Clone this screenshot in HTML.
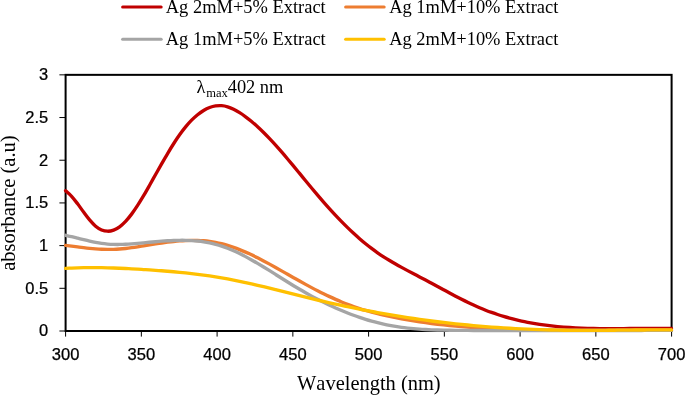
<!DOCTYPE html>
<html><head><meta charset="utf-8"><title>UV-Vis absorbance</title>
<style>html,body{margin:0;padding:0;background:#fff;}body{width:685px;height:395px;overflow:hidden;font-family:"Liberation Serif",serif;}svg{display:block;will-change:transform;}text{fill:#000;font-kerning:none;}</style></head><body>
<svg width="685" height="395" viewBox="0 0 685 395">
<rect x="0" y="0" width="685" height="395" fill="#fff"/>
<rect x="65.60" y="74.85" width="606.00" height="256.15" fill="none" stroke="#000" stroke-width="2"/>
<line x1="65.60" y1="331.00" x2="65.60" y2="336.60" stroke="#000" stroke-width="1"/>
<line x1="141.35" y1="331.00" x2="141.35" y2="336.60" stroke="#000" stroke-width="1"/>
<line x1="217.10" y1="331.00" x2="217.10" y2="336.60" stroke="#000" stroke-width="1"/>
<line x1="292.85" y1="331.00" x2="292.85" y2="336.60" stroke="#000" stroke-width="1"/>
<line x1="368.60" y1="331.00" x2="368.60" y2="336.60" stroke="#000" stroke-width="1"/>
<line x1="444.35" y1="331.00" x2="444.35" y2="336.60" stroke="#000" stroke-width="1"/>
<line x1="520.10" y1="331.00" x2="520.10" y2="336.60" stroke="#000" stroke-width="1"/>
<line x1="595.85" y1="331.00" x2="595.85" y2="336.60" stroke="#000" stroke-width="1"/>
<line x1="671.60" y1="331.00" x2="671.60" y2="336.60" stroke="#000" stroke-width="1"/>
<line x1="59.40" y1="331.00" x2="65.60" y2="331.00" stroke="#000" stroke-width="1"/>
<line x1="59.40" y1="288.31" x2="65.60" y2="288.31" stroke="#000" stroke-width="1"/>
<line x1="59.40" y1="245.62" x2="65.60" y2="245.62" stroke="#000" stroke-width="1"/>
<line x1="59.40" y1="202.93" x2="65.60" y2="202.93" stroke="#000" stroke-width="1"/>
<line x1="59.40" y1="160.23" x2="65.60" y2="160.23" stroke="#000" stroke-width="1"/>
<line x1="59.40" y1="117.54" x2="65.60" y2="117.54" stroke="#000" stroke-width="1"/>
<line x1="59.40" y1="74.85" x2="65.60" y2="74.85" stroke="#000" stroke-width="1"/>
<path d="M65.60 190.75 C66.60 191.68 69.60 194.13 71.60 196.31 C73.60 198.49 75.60 201.19 77.60 203.82 C79.60 206.45 81.60 209.40 83.60 212.09 C85.60 214.78 87.60 217.59 89.60 219.94 C91.60 222.28 93.60 224.51 95.60 226.17 C97.60 227.84 99.60 229.09 101.60 229.93 C103.60 230.77 105.60 231.17 107.60 231.20 C109.60 231.23 111.60 230.85 113.60 230.11 C115.60 229.38 117.60 228.25 119.60 226.79 C121.60 225.33 123.60 223.48 125.60 221.37 C127.60 219.26 129.60 216.78 131.60 214.12 C133.60 211.46 135.60 208.50 137.60 205.42 C139.60 202.34 141.60 199.02 143.60 195.66 C145.60 192.29 147.60 188.75 149.60 185.22 C151.60 181.70 153.60 178.07 155.60 174.51 C157.60 170.95 159.60 167.35 161.60 163.85 C163.60 160.36 165.60 156.87 167.60 153.52 C169.60 150.16 171.60 146.87 173.60 143.74 C175.60 140.62 177.60 137.60 179.60 134.79 C181.60 131.98 183.60 129.32 185.60 126.89 C187.60 124.46 189.60 122.21 191.60 120.18 C193.60 118.15 195.60 116.32 197.60 114.70 C199.60 113.08 201.60 111.67 203.60 110.47 C205.60 109.28 207.60 108.30 209.60 107.54 C211.60 106.78 213.60 106.23 215.60 105.92 C217.60 105.61 219.60 105.51 221.60 105.65 C223.60 105.80 225.60 106.18 227.60 106.77 C229.60 107.37 231.60 108.25 233.60 109.23 C235.60 110.21 237.60 111.40 239.60 112.66 C241.60 113.91 243.60 115.30 245.60 116.78 C247.60 118.25 249.60 119.84 251.60 121.51 C253.60 123.18 255.60 124.94 257.60 126.78 C259.60 128.61 261.60 130.54 263.60 132.52 C265.60 134.50 267.60 136.56 269.60 138.67 C271.60 140.78 273.60 142.96 275.60 145.17 C277.60 147.39 279.60 149.66 281.60 151.96 C283.60 154.26 285.60 156.61 287.60 158.98 C289.60 161.35 291.60 163.75 293.60 166.16 C295.60 168.56 297.60 171.00 299.60 173.43 C301.60 175.85 303.60 178.30 305.60 180.72 C307.60 183.15 309.60 185.58 311.60 187.98 C313.60 190.38 315.60 192.77 317.60 195.13 C319.60 197.48 321.60 199.82 323.60 202.11 C325.60 204.40 327.60 206.65 329.60 208.87 C331.60 211.08 333.60 213.25 335.60 215.38 C337.60 217.51 339.60 219.60 341.60 221.64 C343.60 223.68 345.60 225.68 347.60 227.62 C349.60 229.57 351.60 231.47 353.60 233.31 C355.60 235.15 357.60 236.95 359.60 238.68 C361.60 240.42 363.60 242.11 365.60 243.73 C367.60 245.35 369.60 246.92 371.60 248.42 C373.60 249.93 375.60 251.37 377.60 252.76 C379.60 254.15 381.60 255.48 383.60 256.78 C385.60 258.07 387.60 259.31 389.60 260.52 C391.60 261.73 393.60 262.90 395.60 264.04 C397.60 265.19 399.60 266.29 401.60 267.39 C403.60 268.48 405.60 269.55 407.60 270.61 C409.60 271.67 411.60 272.72 413.60 273.76 C415.60 274.81 417.60 275.84 419.60 276.89 C421.60 277.93 423.60 278.97 425.60 280.03 C427.60 281.09 429.60 282.17 431.60 283.24 C433.60 284.32 435.60 285.41 437.60 286.50 C439.60 287.58 441.60 288.67 443.60 289.76 C445.60 290.84 447.60 291.93 449.60 293.00 C451.60 294.07 453.60 295.14 455.60 296.19 C457.60 297.23 459.60 298.27 461.60 299.29 C463.60 300.30 465.60 301.30 467.60 302.27 C469.60 303.24 471.60 304.19 473.60 305.10 C475.60 306.01 477.60 306.90 479.60 307.75 C481.60 308.59 483.60 309.41 485.60 310.19 C487.60 310.97 489.60 311.72 491.60 312.44 C493.60 313.16 495.60 313.85 497.60 314.50 C499.60 315.16 501.60 315.79 503.60 316.39 C505.60 316.99 507.60 317.56 509.60 318.10 C511.60 318.64 513.60 319.16 515.60 319.65 C517.60 320.14 519.60 320.60 521.60 321.04 C523.60 321.48 525.60 321.89 527.60 322.28 C529.60 322.67 531.60 323.04 533.60 323.39 C535.60 323.73 537.60 324.05 539.60 324.36 C541.60 324.66 543.60 324.94 545.60 325.21 C547.60 325.47 549.60 325.71 551.60 325.94 C553.60 326.16 555.60 326.37 557.60 326.56 C559.60 326.75 561.60 326.93 563.60 327.09 C565.60 327.24 567.60 327.39 569.60 327.52 C571.60 327.65 573.60 327.76 575.60 327.86 C577.60 327.97 579.60 328.06 581.60 328.14 C583.60 328.21 585.60 328.28 587.60 328.34 C589.60 328.40 591.60 328.44 593.60 328.48 C595.60 328.52 597.60 328.55 599.60 328.57 C601.60 328.59 603.60 328.61 605.60 328.62 C607.60 328.63 609.60 328.63 611.60 328.63 C613.60 328.62 615.60 328.62 617.60 328.61 C619.60 328.60 621.60 328.58 623.60 328.57 C625.60 328.55 627.60 328.53 629.60 328.52 C631.60 328.50 633.60 328.48 635.60 328.46 C637.60 328.44 639.60 328.42 641.60 328.41 C643.60 328.39 645.60 328.37 647.60 328.36 C649.60 328.35 651.60 328.34 653.60 328.34 C655.60 328.34 657.60 328.34 659.60 328.34 C661.60 328.35 663.62 328.36 665.60 328.38 C667.58 328.40 670.52 328.45 671.50 328.47" fill="none" stroke="#C00000" stroke-width="3.35" stroke-linecap="round" stroke-linejoin="round"/>
<path d="M65.60 245.44 C66.60 245.56 69.60 245.92 71.60 246.17 C73.60 246.41 75.60 246.67 77.60 246.92 C79.60 247.17 81.60 247.43 83.60 247.66 C85.60 247.90 87.60 248.13 89.60 248.33 C91.60 248.54 93.60 248.73 95.60 248.89 C97.60 249.04 99.60 249.18 101.60 249.27 C103.60 249.36 105.60 249.42 107.60 249.44 C109.60 249.45 111.60 249.43 113.60 249.36 C115.60 249.30 117.60 249.19 119.60 249.04 C121.60 248.90 123.60 248.70 125.60 248.48 C127.60 248.26 129.60 247.99 131.60 247.71 C133.60 247.43 135.60 247.12 137.60 246.80 C139.60 246.49 141.60 246.16 143.60 245.84 C145.60 245.51 147.60 245.18 149.60 244.86 C151.60 244.54 153.60 244.22 155.60 243.91 C157.60 243.60 159.60 243.29 161.60 243.01 C163.60 242.72 165.60 242.45 167.60 242.20 C169.60 241.95 171.60 241.71 173.60 241.50 C175.60 241.29 177.60 241.10 179.60 240.95 C181.60 240.79 183.60 240.66 185.60 240.57 C187.60 240.48 189.60 240.42 191.60 240.40 C193.60 240.38 195.60 240.40 197.60 240.46 C199.60 240.53 201.60 240.63 203.60 240.79 C205.60 240.95 207.60 241.15 209.60 241.41 C211.60 241.67 213.60 241.99 215.60 242.36 C217.60 242.74 219.60 243.17 221.60 243.66 C223.60 244.16 225.60 244.72 227.60 245.32 C229.60 245.93 231.60 246.59 233.60 247.30 C235.60 248.01 237.60 248.77 239.60 249.57 C241.60 250.37 243.60 251.22 245.60 252.10 C247.60 252.98 249.60 253.91 251.60 254.86 C253.60 255.81 255.60 256.80 257.60 257.81 C259.60 258.82 261.60 259.86 263.60 260.91 C265.60 261.97 267.60 263.05 269.60 264.15 C271.60 265.24 273.60 266.36 275.60 267.48 C277.60 268.60 279.60 269.73 281.60 270.87 C283.60 272.00 285.60 273.15 287.60 274.29 C289.60 275.43 291.60 276.57 293.60 277.70 C295.60 278.83 297.60 279.97 299.60 281.08 C301.60 282.20 303.60 283.30 305.60 284.39 C307.60 285.48 309.60 286.56 311.60 287.62 C313.60 288.68 315.60 289.73 317.60 290.75 C319.60 291.77 321.60 292.78 323.60 293.76 C325.60 294.75 327.60 295.71 329.60 296.64 C331.60 297.58 333.60 298.49 335.60 299.38 C337.60 300.26 339.60 301.12 341.60 301.95 C343.60 302.78 345.60 303.58 347.60 304.34 C349.60 305.11 351.60 305.84 353.60 306.55 C355.60 307.25 357.60 307.92 359.60 308.56 C361.60 309.21 363.60 309.82 365.60 310.41 C367.60 311.00 369.60 311.56 371.60 312.10 C373.60 312.64 375.60 313.16 377.60 313.65 C379.60 314.15 381.60 314.62 383.60 315.08 C385.60 315.54 387.60 315.98 389.60 316.41 C391.60 316.83 393.60 317.24 395.60 317.64 C397.60 318.03 399.60 318.42 401.60 318.79 C403.60 319.16 405.60 319.52 407.60 319.87 C409.60 320.22 411.60 320.55 413.60 320.88 C415.60 321.20 417.60 321.51 419.60 321.81 C421.60 322.11 423.60 322.40 425.60 322.68 C427.60 322.96 429.60 323.23 431.60 323.49 C433.60 323.75 435.60 324.00 437.60 324.24 C439.60 324.47 441.60 324.70 443.60 324.92 C445.60 325.14 447.60 325.35 449.60 325.55 C451.60 325.75 453.60 325.94 455.60 326.13 C457.60 326.31 459.60 326.49 461.60 326.65 C463.60 326.82 465.60 326.98 467.60 327.13 C469.60 327.28 471.60 327.42 473.60 327.56 C475.60 327.70 477.60 327.82 479.60 327.95 C481.60 328.07 483.60 328.18 485.60 328.29 C487.60 328.40 489.60 328.50 491.60 328.60 C493.60 328.70 495.60 328.79 497.60 328.87 C499.60 328.96 501.60 329.03 503.60 329.11 C505.60 329.18 507.60 329.25 509.60 329.32 C511.60 329.38 513.60 329.44 515.60 329.50 C517.60 329.55 519.60 329.60 521.60 329.65 C523.60 329.70 525.60 329.74 527.60 329.78 C529.60 329.82 531.60 329.86 533.60 329.89 C535.60 329.92 537.60 329.95 539.60 329.98 C541.60 330.01 543.60 330.04 545.60 330.06 C547.60 330.08 549.60 330.10 551.60 330.12 C553.60 330.14 555.60 330.16 557.60 330.18 C559.60 330.19 561.60 330.21 563.60 330.22 C565.60 330.23 567.60 330.25 569.60 330.26 C571.60 330.27 573.60 330.27 575.60 330.28 C577.60 330.29 579.60 330.30 581.60 330.30 C583.60 330.31 585.60 330.31 587.60 330.31 C589.60 330.32 591.60 330.32 593.60 330.32 C595.60 330.32 597.60 330.32 599.60 330.32 C601.60 330.32 603.60 330.32 605.60 330.32 C607.60 330.31 609.60 330.31 611.60 330.31 C613.60 330.30 615.60 330.30 617.60 330.29 C619.60 330.29 621.60 330.28 623.60 330.27 C625.60 330.27 627.60 330.26 629.60 330.25 C631.60 330.25 633.60 330.24 635.60 330.23 C637.60 330.22 639.60 330.22 641.60 330.21 C643.60 330.20 645.60 330.19 647.60 330.18 C649.60 330.18 651.60 330.17 653.60 330.16 C655.60 330.15 657.60 330.14 659.60 330.13 C661.60 330.13 663.62 330.12 665.60 330.11 C667.58 330.10 670.52 330.09 671.50 330.09" fill="none" stroke="#ED7D31" stroke-width="3.35" stroke-linecap="round" stroke-linejoin="round"/>
<path d="M65.60 235.32 C66.60 235.54 69.60 236.18 71.60 236.65 C73.60 237.11 75.60 237.62 77.60 238.12 C79.60 238.62 81.60 239.15 83.60 239.64 C85.60 240.14 87.60 240.64 89.60 241.10 C91.60 241.56 93.60 242.01 95.60 242.40 C97.60 242.78 99.60 243.13 101.60 243.42 C103.60 243.70 105.60 243.91 107.60 244.08 C109.60 244.24 111.60 244.34 113.60 244.40 C115.60 244.46 117.60 244.46 119.60 244.44 C121.60 244.41 123.60 244.34 125.60 244.24 C127.60 244.15 129.60 244.02 131.60 243.88 C133.60 243.73 135.60 243.56 137.60 243.39 C139.60 243.21 141.60 243.02 143.60 242.83 C145.60 242.65 147.60 242.45 149.60 242.26 C151.60 242.07 153.60 241.88 155.60 241.71 C157.60 241.53 159.60 241.35 161.60 241.20 C163.60 241.04 165.60 240.90 167.60 240.77 C169.60 240.65 171.60 240.54 173.60 240.46 C175.60 240.38 177.60 240.32 179.60 240.30 C181.60 240.28 183.60 240.28 185.60 240.32 C187.60 240.36 189.60 240.43 191.60 240.55 C193.60 240.67 195.60 240.82 197.60 241.03 C199.60 241.24 201.60 241.48 203.60 241.79 C205.60 242.09 207.60 242.45 209.60 242.86 C211.60 243.28 213.60 243.74 215.60 244.28 C217.60 244.82 219.60 245.41 221.60 246.08 C223.60 246.74 225.60 247.47 227.60 248.25 C229.60 249.03 231.60 249.87 233.60 250.76 C235.60 251.65 237.60 252.59 239.60 253.57 C241.60 254.55 243.60 255.58 245.60 256.64 C247.60 257.69 249.60 258.80 251.60 259.92 C253.60 261.05 255.60 262.21 257.60 263.39 C259.60 264.57 261.60 265.77 263.60 266.99 C265.60 268.21 267.60 269.45 269.60 270.70 C271.60 271.94 273.60 273.20 275.60 274.46 C277.60 275.72 279.60 276.98 281.60 278.24 C283.60 279.50 285.60 280.76 287.60 282.00 C289.60 283.25 291.60 284.49 293.60 285.71 C295.60 286.92 297.60 288.13 299.60 289.31 C301.60 290.49 303.60 291.64 305.60 292.78 C307.60 293.91 309.60 295.02 311.60 296.11 C313.60 297.19 315.60 298.25 317.60 299.29 C319.60 300.33 321.60 301.34 323.60 302.33 C325.60 303.32 327.60 304.28 329.60 305.22 C331.60 306.16 333.60 307.07 335.60 307.96 C337.60 308.85 339.60 309.71 341.60 310.54 C343.60 311.38 345.60 312.19 347.60 312.97 C349.60 313.75 351.60 314.51 353.60 315.24 C355.60 315.97 357.60 316.67 359.60 317.35 C361.60 318.02 363.60 318.67 365.60 319.29 C367.60 319.91 369.60 320.50 371.60 321.07 C373.60 321.63 375.60 322.17 377.60 322.67 C379.60 323.18 381.60 323.66 383.60 324.11 C385.60 324.55 387.60 324.97 389.60 325.36 C391.60 325.76 393.60 326.12 395.60 326.45 C397.60 326.78 399.60 327.08 401.60 327.35 C403.60 327.63 405.60 327.87 407.60 328.10 C409.60 328.32 411.60 328.52 413.60 328.70 C415.60 328.88 417.60 329.03 419.60 329.17 C421.60 329.32 423.60 329.43 425.60 329.54 C427.60 329.65 429.60 329.74 431.60 329.82 C433.60 329.89 435.60 329.96 437.60 330.01 C439.60 330.07 441.60 330.12 443.60 330.16 C445.60 330.20 447.60 330.23 449.60 330.26 C451.60 330.29 453.60 330.31 455.60 330.33 C457.60 330.36 459.60 330.38 461.60 330.40 C463.60 330.41 465.60 330.43 467.60 330.44 C469.60 330.46 471.60 330.47 473.60 330.48 C475.60 330.49 477.60 330.50 479.60 330.50 C481.60 330.51 483.60 330.51 485.60 330.52 C487.60 330.52 489.60 330.53 491.60 330.53 C493.60 330.53 495.60 330.53 497.60 330.53 C499.60 330.53 501.60 330.53 503.60 330.53 C505.60 330.52 507.60 330.52 509.60 330.52 C511.60 330.52 513.60 330.52 515.60 330.51 C517.60 330.51 519.60 330.51 521.60 330.51 C523.60 330.50 525.60 330.50 527.60 330.50 C529.60 330.50 531.60 330.50 533.60 330.50 C535.60 330.49 537.60 330.49 539.60 330.49 C541.60 330.49 543.60 330.49 545.60 330.49 C547.60 330.49 549.60 330.49 551.60 330.49 C553.60 330.49 555.60 330.49 557.60 330.49 C559.60 330.48 561.60 330.48 563.60 330.48 C565.60 330.48 567.60 330.48 569.60 330.48 C571.60 330.48 573.60 330.48 575.60 330.48 C577.60 330.48 579.60 330.48 581.60 330.48 C583.60 330.48 585.60 330.48 587.60 330.48 C589.60 330.48 591.60 330.48 593.60 330.48 C595.60 330.48 597.60 330.48 599.60 330.48 C601.60 330.48 603.60 330.48 605.60 330.48 C607.60 330.48 609.60 330.48 611.60 330.48 C613.60 330.48 615.60 330.47 617.60 330.47 C619.60 330.47 621.60 330.47 623.60 330.47 C625.60 330.47 627.60 330.47 629.60 330.46 C631.60 330.46 633.60 330.46 635.60 330.46 C637.60 330.46 639.60 330.45 641.60 330.45 C643.60 330.45 645.60 330.44 647.60 330.44 C649.60 330.44 651.60 330.43 653.60 330.43 C655.60 330.43 657.60 330.42 659.60 330.42 C661.60 330.41 663.62 330.41 665.60 330.40 C667.58 330.40 670.52 330.39 671.50 330.39" fill="none" stroke="#A5A5A5" stroke-width="3.35" stroke-linecap="round" stroke-linejoin="round"/>
<path d="M65.60 268.38 C66.60 268.32 69.60 268.15 71.60 268.06 C73.60 267.96 75.60 267.89 77.60 267.83 C79.60 267.76 81.60 267.72 83.60 267.68 C85.60 267.65 87.60 267.63 89.60 267.62 C91.60 267.61 93.60 267.61 95.60 267.63 C97.60 267.64 99.60 267.67 101.60 267.70 C103.60 267.74 105.60 267.78 107.60 267.84 C109.60 267.89 111.60 267.95 113.60 268.03 C115.60 268.10 117.60 268.18 119.60 268.26 C121.60 268.35 123.60 268.44 125.60 268.54 C127.60 268.64 129.60 268.75 131.60 268.85 C133.60 268.96 135.60 269.08 137.60 269.20 C139.60 269.31 141.60 269.44 143.60 269.56 C145.60 269.69 147.60 269.81 149.60 269.95 C151.60 270.08 153.60 270.21 155.60 270.35 C157.60 270.50 159.60 270.64 161.60 270.79 C163.60 270.94 165.60 271.10 167.60 271.26 C169.60 271.43 171.60 271.60 173.60 271.77 C175.60 271.95 177.60 272.13 179.60 272.33 C181.60 272.52 183.60 272.72 185.60 272.93 C187.60 273.14 189.60 273.36 191.60 273.59 C193.60 273.81 195.60 274.05 197.60 274.30 C199.60 274.55 201.60 274.81 203.60 275.08 C205.60 275.35 207.60 275.63 209.60 275.92 C211.60 276.22 213.60 276.52 215.60 276.84 C217.60 277.16 219.60 277.49 221.60 277.83 C223.60 278.18 225.60 278.54 227.60 278.91 C229.60 279.28 231.60 279.66 233.60 280.06 C235.60 280.45 237.60 280.86 239.60 281.27 C241.60 281.69 243.60 282.12 245.60 282.55 C247.60 282.99 249.60 283.44 251.60 283.89 C253.60 284.35 255.60 284.81 257.60 285.29 C259.60 285.76 261.60 286.24 263.60 286.72 C265.60 287.21 267.60 287.70 269.60 288.20 C271.60 288.69 273.60 289.19 275.60 289.69 C277.60 290.19 279.60 290.70 281.60 291.20 C283.60 291.70 285.60 292.21 287.60 292.71 C289.60 293.22 291.60 293.72 293.60 294.22 C295.60 294.72 297.60 295.22 299.60 295.71 C301.60 296.20 303.60 296.69 305.60 297.18 C307.60 297.66 309.60 298.15 311.60 298.62 C313.60 299.10 315.60 299.57 317.60 300.04 C319.60 300.50 321.60 300.97 323.60 301.42 C325.60 301.88 327.60 302.34 329.60 302.78 C331.60 303.23 333.60 303.68 335.60 304.11 C337.60 304.55 339.60 304.99 341.60 305.42 C343.60 305.84 345.60 306.27 347.60 306.69 C349.60 307.11 351.60 307.52 353.60 307.93 C355.60 308.34 357.60 308.74 359.60 309.14 C361.60 309.53 363.60 309.93 365.60 310.31 C367.60 310.70 369.60 311.08 371.60 311.46 C373.60 311.83 375.60 312.20 377.60 312.57 C379.60 312.93 381.60 313.29 383.60 313.64 C385.60 314.00 387.60 314.35 389.60 314.69 C391.60 315.03 393.60 315.36 395.60 315.69 C397.60 316.02 399.60 316.34 401.60 316.66 C403.60 316.98 405.60 317.29 407.60 317.60 C409.60 317.90 411.60 318.20 413.60 318.49 C415.60 318.79 417.60 319.08 419.60 319.36 C421.60 319.64 423.60 319.92 425.60 320.19 C427.60 320.46 429.60 320.72 431.60 320.98 C433.60 321.24 435.60 321.49 437.60 321.74 C439.60 321.98 441.60 322.23 443.60 322.46 C445.60 322.70 447.60 322.93 449.60 323.15 C451.60 323.38 453.60 323.60 455.60 323.81 C457.60 324.02 459.60 324.23 461.60 324.43 C463.60 324.64 465.60 324.83 467.60 325.02 C469.60 325.22 471.60 325.40 473.60 325.58 C475.60 325.76 477.60 325.94 479.60 326.11 C481.60 326.28 483.60 326.44 485.60 326.60 C487.60 326.76 489.60 326.92 491.60 327.06 C493.60 327.21 495.60 327.36 497.60 327.49 C499.60 327.63 501.60 327.77 503.60 327.89 C505.60 328.02 507.60 328.14 509.60 328.26 C511.60 328.38 513.60 328.49 515.60 328.60 C517.60 328.71 519.60 328.81 521.60 328.90 C523.60 329.00 525.60 329.09 527.60 329.18 C529.60 329.27 531.60 329.35 533.60 329.43 C535.60 329.51 537.60 329.58 539.60 329.64 C541.60 329.71 543.60 329.77 545.60 329.83 C547.60 329.89 549.60 329.94 551.60 329.99 C553.60 330.04 555.60 330.08 557.60 330.12 C559.60 330.16 561.60 330.19 563.60 330.22 C565.60 330.25 567.60 330.28 569.60 330.30 C571.60 330.32 573.60 330.33 575.60 330.35 C577.60 330.36 579.60 330.37 581.60 330.37 C583.60 330.38 585.60 330.38 587.60 330.38 C589.60 330.37 591.60 330.37 593.60 330.36 C595.60 330.36 597.60 330.35 599.60 330.34 C601.60 330.33 603.60 330.31 605.60 330.30 C607.60 330.28 609.60 330.27 611.60 330.25 C613.60 330.23 615.60 330.22 617.60 330.20 C619.60 330.18 621.60 330.16 623.60 330.14 C625.60 330.12 627.60 330.10 629.60 330.08 C631.60 330.06 633.60 330.04 635.60 330.03 C637.60 330.01 639.60 329.99 641.60 329.98 C643.60 329.96 645.60 329.95 647.60 329.93 C649.60 329.92 651.60 329.91 653.60 329.90 C655.60 329.90 657.60 329.89 659.60 329.89 C661.60 329.88 663.62 329.88 665.60 329.88 C667.58 329.89 670.52 329.90 671.50 329.90" fill="none" stroke="#FFC000" stroke-width="3.35" stroke-linecap="round" stroke-linejoin="round"/>
<text x="65.60" y="360.3" text-anchor="middle" font-family="Liberation Sans, sans-serif" font-size="15.9" stroke="#000" stroke-width="0.25" textLength="27.6" lengthAdjust="spacingAndGlyphs">300</text>
<text x="141.35" y="360.3" text-anchor="middle" font-family="Liberation Sans, sans-serif" font-size="15.9" stroke="#000" stroke-width="0.25" textLength="27.6" lengthAdjust="spacingAndGlyphs">350</text>
<text x="217.10" y="360.3" text-anchor="middle" font-family="Liberation Sans, sans-serif" font-size="15.9" stroke="#000" stroke-width="0.25" textLength="27.6" lengthAdjust="spacingAndGlyphs">400</text>
<text x="292.85" y="360.3" text-anchor="middle" font-family="Liberation Sans, sans-serif" font-size="15.9" stroke="#000" stroke-width="0.25" textLength="27.6" lengthAdjust="spacingAndGlyphs">450</text>
<text x="368.60" y="360.3" text-anchor="middle" font-family="Liberation Sans, sans-serif" font-size="15.9" stroke="#000" stroke-width="0.25" textLength="27.6" lengthAdjust="spacingAndGlyphs">500</text>
<text x="444.35" y="360.3" text-anchor="middle" font-family="Liberation Sans, sans-serif" font-size="15.9" stroke="#000" stroke-width="0.25" textLength="27.6" lengthAdjust="spacingAndGlyphs">550</text>
<text x="520.10" y="360.3" text-anchor="middle" font-family="Liberation Sans, sans-serif" font-size="15.9" stroke="#000" stroke-width="0.25" textLength="27.6" lengthAdjust="spacingAndGlyphs">600</text>
<text x="595.85" y="360.3" text-anchor="middle" font-family="Liberation Sans, sans-serif" font-size="15.9" stroke="#000" stroke-width="0.25" textLength="27.6" lengthAdjust="spacingAndGlyphs">650</text>
<text x="671.60" y="360.3" text-anchor="middle" font-family="Liberation Sans, sans-serif" font-size="15.9" stroke="#000" stroke-width="0.25" textLength="27.6" lengthAdjust="spacingAndGlyphs">700</text>
<text transform="translate(48.2,336.40) scale(1.035,1)" x="0" y="0" text-anchor="end" font-family="Liberation Sans, sans-serif" font-size="15.9" stroke="#000" stroke-width="0.25">0</text>
<text transform="translate(48.2,293.71) scale(1.035,1)" x="0" y="0" text-anchor="end" font-family="Liberation Sans, sans-serif" font-size="15.9" stroke="#000" stroke-width="0.25">0.5</text>
<text transform="translate(48.2,251.02) scale(1.035,1)" x="0" y="0" text-anchor="end" font-family="Liberation Sans, sans-serif" font-size="15.9" stroke="#000" stroke-width="0.25">1</text>
<text transform="translate(48.2,208.33) scale(1.035,1)" x="0" y="0" text-anchor="end" font-family="Liberation Sans, sans-serif" font-size="15.9" stroke="#000" stroke-width="0.25">1.5</text>
<text transform="translate(48.2,165.63) scale(1.035,1)" x="0" y="0" text-anchor="end" font-family="Liberation Sans, sans-serif" font-size="15.9" stroke="#000" stroke-width="0.25">2</text>
<text transform="translate(48.2,122.94) scale(1.035,1)" x="0" y="0" text-anchor="end" font-family="Liberation Sans, sans-serif" font-size="15.9" stroke="#000" stroke-width="0.25">2.5</text>
<text transform="translate(48.2,80.25) scale(1.035,1)" x="0" y="0" text-anchor="end" font-family="Liberation Sans, sans-serif" font-size="15.9" stroke="#000" stroke-width="0.25">3</text>
<line x1="122.60" y1="6.90" x2="161.20" y2="6.90" stroke="#C00000" stroke-width="3" stroke-linecap="round"/>
<text x="165.80" y="12.75" font-family="Liberation Serif, serif" font-size="18.45">Ag 2mM+5% Extract</text>
<line x1="345.60" y1="6.90" x2="384.20" y2="6.90" stroke="#ED7D31" stroke-width="3" stroke-linecap="round"/>
<text x="389.20" y="12.75" font-family="Liberation Serif, serif" font-size="18.45">Ag 1mM+10% Extract</text>
<line x1="122.60" y1="39.20" x2="161.20" y2="39.20" stroke="#A5A5A5" stroke-width="3" stroke-linecap="round"/>
<text x="165.80" y="45.05" font-family="Liberation Serif, serif" font-size="18.45">Ag 1mM+5% Extract</text>
<line x1="345.60" y1="39.20" x2="384.20" y2="39.20" stroke="#FFC000" stroke-width="3" stroke-linecap="round"/>
<text x="389.20" y="45.05" font-family="Liberation Serif, serif" font-size="18.45">Ag 2mM+10% Extract</text>
<text x="196.5" y="92.8" font-family="Liberation Serif, serif" font-size="18.4">&#955;</text>
<text x="206.2" y="97.1" font-family="Liberation Serif, serif" font-size="12.5">max</text>
<text x="227.7" y="92.8" font-family="Liberation Serif, serif" font-size="18.4">402 nm</text>
<text x="368.85" y="390.4" text-anchor="middle" font-family="Liberation Serif, serif" font-size="20.45">Wavelength (nm)</text>
<text transform="translate(14.5,203.1) rotate(-90)" text-anchor="middle" font-family="Liberation Serif, serif" font-size="20.5">absorbance (a.u)</text>
</svg></body></html>
